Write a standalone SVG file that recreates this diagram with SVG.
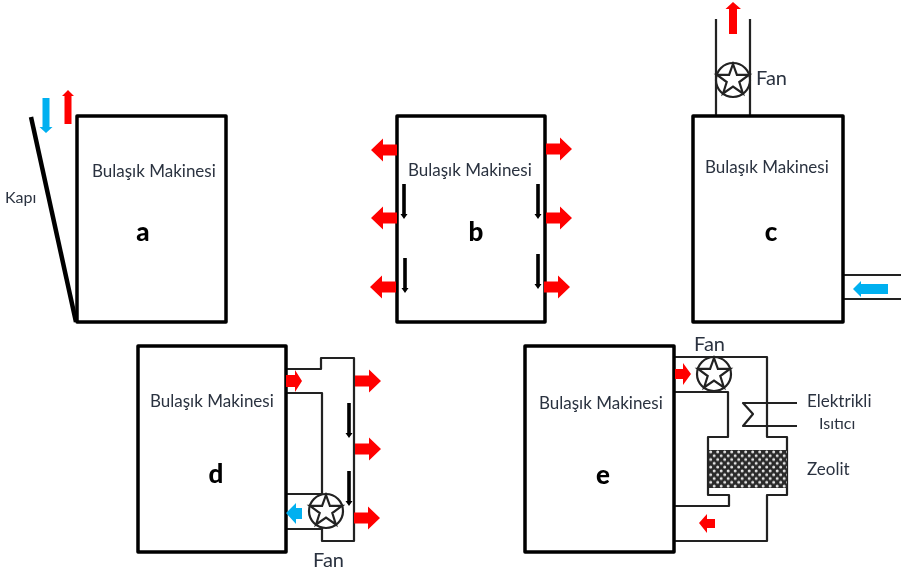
<svg xmlns="http://www.w3.org/2000/svg" width="902" height="574" viewBox="0 0 902 574">
<style>
.box{fill:#fff;stroke:#000;stroke-width:3.5;stroke-linejoin:round}
.duct{fill:none;stroke:#222;stroke-width:2.2;stroke-linejoin:round}
.red{fill:#ff0000}
.blue{fill:#00b0f0}
.blk{fill:#000}
.t{font-family:Lato,"Liberation Sans",sans-serif;font-size:17px;fill:#2b3340}
.fan{font-size:20px}
.sm{font-size:16px}
.l{font-family:Lato,"Liberation Sans",sans-serif;font-size:26px;font-weight:900;fill:#000;text-anchor:middle}
.fanc{fill:#fff;stroke:#222;stroke-width:2.2}
.fans{fill:none;stroke:#222;stroke-width:2.2;stroke-linejoin:miter}
</style>
<defs>
<filter id="soft" filterUnits="userSpaceOnUse" x="0" y="0" width="902" height="574"><feGaussianBlur stdDeviation="0.45"/></filter>
<path id="ar" d="M0,-5.500H14V-11.500L26,0L14,11.500V5.500H0Z"/>
<path id="bk" d="M-1.800,0H1.800V30H3.500L0,35L-3.500,30H-1.800Z"/>
<g id="fansym">
<circle class="fanc" r="17"/>
<path class="fans" d="M0,-16L3.900,-5.200L16,-5.200L6.300,2L9.900,13.500L0,6.600L-9.900,13.500L-6.300,2L-16,-5.200L-3.900,-5.200Z"/>
</g>
<pattern id="zeo" width="7" height="7.600" patternUnits="userSpaceOnUse" x="709" y="450">
<rect width="7" height="7.600" fill="#2a2a2a"/>
<circle cx="1.700" cy="1.900" r="1.500" fill="#e4e4e4"/>
<circle cx="5.200" cy="5.700" r="1.500" fill="#e4e4e4"/>
</pattern>
</defs>
<rect width="902" height="574" fill="#fff"/>
<g filter="url(#soft)">
<g id="node-a">
<rect class="box" x="77" y="116" width="149" height="206"/>
<path d="M31,117L76,322" fill="none" stroke="#000" stroke-width="4.500"/>
<path class="blue" d="M42.500,98H49.500V127H52.500L46,133L39.500,127H42.500Z"/>
<path class="red" d="M64.500,124V96H62L68,90L74,96H71.500V124Z"/>
<text class="t" x="92" y="177">Bulaşık Makinesi</text>
<text class="t sm" x="5" y="203">Kapı</text>
<text class="l" x="143" y="241">a</text>
</g>
<g id="node-b">
<rect class="box" x="397" y="116" width="148" height="206"/>
<use href="#ar" class="red" transform="translate(397,150) scale(-1,1)"/>
<use href="#ar" class="red" transform="translate(397,218) scale(-1,1)"/>
<use href="#ar" class="red" transform="translate(396,287) scale(-1,1)"/>
<use href="#ar" class="red" transform="translate(546,149)"/>
<use href="#ar" class="red" transform="translate(546,218)"/>
<use href="#ar" class="red" transform="translate(544,287)"/>
<use href="#bk" class="blk" transform="translate(404,184)"/>
<use href="#bk" class="blk" transform="translate(405,258)"/>
<use href="#bk" class="blk" transform="translate(538,184)"/>
<use href="#bk" class="blk" transform="translate(538,254)"/>
<text class="t" x="408" y="176">Bulaşık Makinesi</text>
<text class="l" x="476" y="241">b</text>
</g>
<g id="connectors">
<path class="duct" d="M716,19V115M750,19V115"/>
<path class="duct" d="M843,275H901M843,299H901"/>
<path class="duct" d="M286,369H321V358H354V541H322V528M286,393H322V494M286,494H322M286,529H322"/>
<path class="duct" d="M675,357H767V437H787V495H767V541H675M675,392H728V437H708V495H729V506H675"/>
<path class="duct" d="M797,403H743L753,414L743,426H797"/>
</g>
<g id="node-c">
<rect class="box" x="693" y="116" width="150" height="206"/>
<use href="#fansym" transform="translate(733,80)"/>
<path class="red" d="M729,34V9H725.500L733,2L741,9H737V34Z"/>
<path class="blue" d="M888,284V294H861V297L853,289L861,281V284Z"/>
<text class="t" x="705" y="173">Bulaşık Makinesi</text>
<text class="t fan" x="756" y="85">Fan</text>
<text class="l" x="771" y="241">c</text>
</g>
<g id="node-d">
<rect class="box" x="138" y="346" width="148" height="206"/>
<use href="#fansym" transform="translate(326,511)"/>
<path class="red" d="M286,375H295V370L302,381L295,392V387H286Z"/>
<path class="blue" d="M302,508V519H296V524L286,513L296,503V508Z"/>
<use href="#ar" class="red" transform="translate(355,381)"/>
<use href="#ar" class="red" transform="translate(355,449)"/>
<use href="#ar" class="red" transform="translate(354,518)"/>
<use href="#bk" class="blk" transform="translate(349,403)"/>
<use href="#bk" class="blk" transform="translate(349,471)"/>
<text class="t" x="150" y="407">Bulaşık Makinesi</text>
<text class="t fan" x="313" y="567">Fan</text>
<text class="l" x="216" y="483">d</text>
</g>
<g id="node-e">
<rect class="box" x="525" y="346" width="149" height="206"/>
<use href="#fansym" transform="translate(714,374)"/>
<path class="red" d="M675,369H683V363L691,374L683,385V379H675Z"/>
<path class="red" d="M715,519V528H707V533L699,523L707,514V519Z"/>
<rect x="709" y="450" width="78" height="38" fill="url(#zeo)"/>
<text class="t" x="539" y="409">Bulaşık Makinesi</text>
<text class="t fan" x="694" y="351">Fan</text>
<text class="t" x="807" y="407">Elektrikli</text>
<text class="t sm" x="819" y="429">Isıtıcı</text>
<text class="t" x="807" y="475">Zeolit</text>
<text class="l" x="603" y="484">e</text>
</g>
</g>
</svg>
